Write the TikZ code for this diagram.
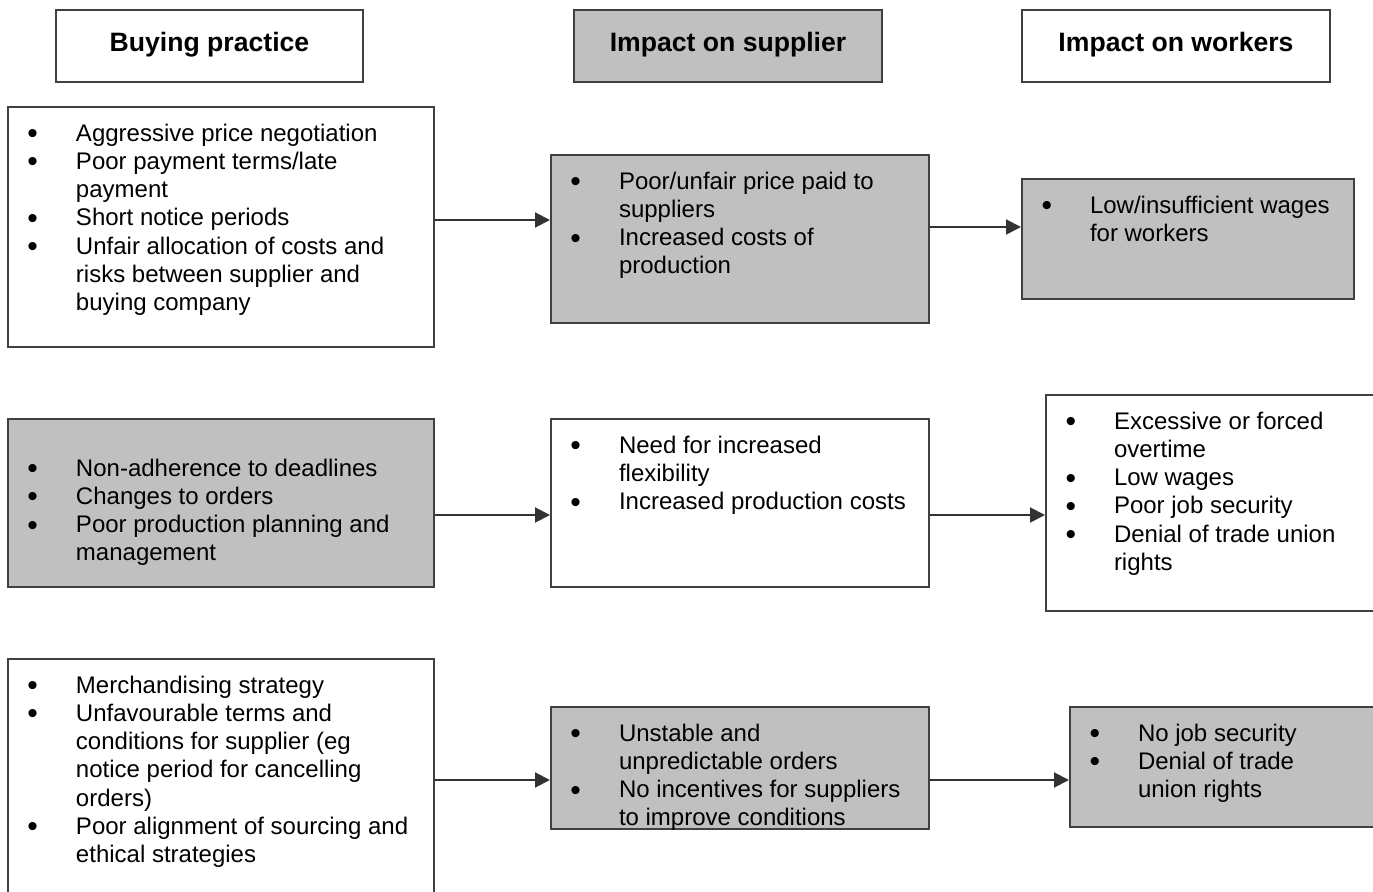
\documentclass[tikz,border=0pt]{standalone}
\usepackage{fontspec}
\setmainfont{Liberation Sans}
\usetikzlibrary{arrows.meta}

\definecolor{boxgrey}{HTML}{C0C0C0}
\definecolor{edge}{HTML}{404040}
\definecolor{arrowgrey}{HTML}{333333}

\newcommand{\bigbullet}{\smash{\raisebox{-1.2pt}{\fontsize{15}{12}\selectfont\textbullet}}}
\newenvironment{blist}{%
  \begin{list}{\bigbullet}{\setlength\leftmargin{34pt}\setlength\labelwidth{6pt}%
    \setlength\labelsep{19pt}\setlength\itemsep{0pt}\setlength\parsep{0pt}%
    \setlength\topsep{0pt}\setlength\partopsep{0pt}}\raggedright}{\end{list}}
\newcommand{\boxlist}[4][8.5pt]{\parbox[t][#3][t]{#2}{\vspace*{#1}\begin{blist}#4\end{blist}}}
\newcommand{\headtext}[2]{\parbox[t][36pt][t]{#1}{\centering\vspace*{11pt}%
  {\fontsize{13.3}{15}\selectfont\bfseries #2}}}

\begin{document}
\begin{tikzpicture}[x=0.5pt,y=-0.5pt,
  box/.style={draw=edge, line width=1pt, inner sep=0pt, anchor=north west},
  grey/.style={box, fill=boxgrey},
  arr/.style={draw=arrowgrey, line width=1pt, -{Triangle[length=7.5pt,width=7.5pt]}}]

\useasboundingbox (0,0) rectangle (1373,892);
\clip (0,0) rectangle (1373,892);

\begin{scope}[every node/.style={font=\fontsize{12}{14.1}\selectfont}]
    % column heads
    \path (55,9) node[box] (headbuy) {\headtext{153.5pt}{Buying practice}};
    \path (573,9) node[grey] (headsup) {\headtext{154pt}{Impact on supplier}};
    \path (1021,9) node[box] (headwork) {\headtext{154pt}{Impact on workers}};

    % first row
    \path (7,106) node[box] (buyA) {\boxlist{213pt}{120pt}{%
      \item Aggressive price negotiation
      \item Poor payment terms/late\\payment
      \item Short notice periods
      \item Unfair allocation of costs and\\risks between supplier and\\buying company}};
    \path (550,154) node[grey] (supA) {\boxlist{189pt}{84pt}{%
      \item Poor/unfair price paid to\\suppliers
      \item Increased costs of\\production}};
    \path (1021,178) node[grey] (workA) {\boxlist{166pt}{60pt}{%
      \item Low/insufficient wages\\for workers}};

    % second row
    \path (7,418) node[grey] (buyB) {\boxlist[20pt]{213pt}{84pt}{%
      \item Non-adherence to deadlines
      \item Changes to orders
      \item Poor production planning and\\management}};
    \path (550,418) node[box] (supB) {\boxlist{189pt}{84pt}{%
      \item Need for increased\\flexibility
      \item Increased production costs}};
    \path (1045,394) node[box] (workB) {\boxlist{170pt}{108pt}{%
      \item Excessive or forced\\overtime
      \item Low wages
      \item Poor job security
      \item Denial of trade union\\rights}};

    % third row
    \path (7,658) node[box] (buyC) {\boxlist{213pt}{121pt}{%
      \item Merchandising strategy
      \item Unfavourable terms and\\conditions for supplier (eg\\notice period for cancelling\\orders)
      \item Poor alignment of sourcing and\\ethical strategies}};
    \path (550,706) node[grey] (supC) {\boxlist{189pt}{61pt}{%
      \item Unstable and\\unpredictable orders
      \item No incentives for suppliers\\to improve conditions}};
    \path (1069,706) node[grey] (workC) {\boxlist{160pt}{60pt}{%
      \item No job security
      \item Denial of trade\\union rights}};
\end{scope}

\draw[arr] ([yshift=3.5pt]buyA.east) -- ([yshift=3.5pt]buyA.east -| supA.west);
\draw[arr] ([yshift=6pt]supA.east) -- ([yshift=6pt]supA.east -| workA.west);
\draw[arr] ([yshift=-6pt]buyB.east) -- ([yshift=-6pt]buyB.east -| supB.west);
\draw[arr] ([yshift=-6pt]supB.east) -- ([yshift=-6pt]supB.east -| workB.west);
\draw[arr] (buyC.east) -- (buyC.east -| supC.west);
\draw[arr] ([yshift=-6pt]supC.east) -- ([yshift=-6pt]supC.east -| workC.west);

\end{tikzpicture}
\end{document}
